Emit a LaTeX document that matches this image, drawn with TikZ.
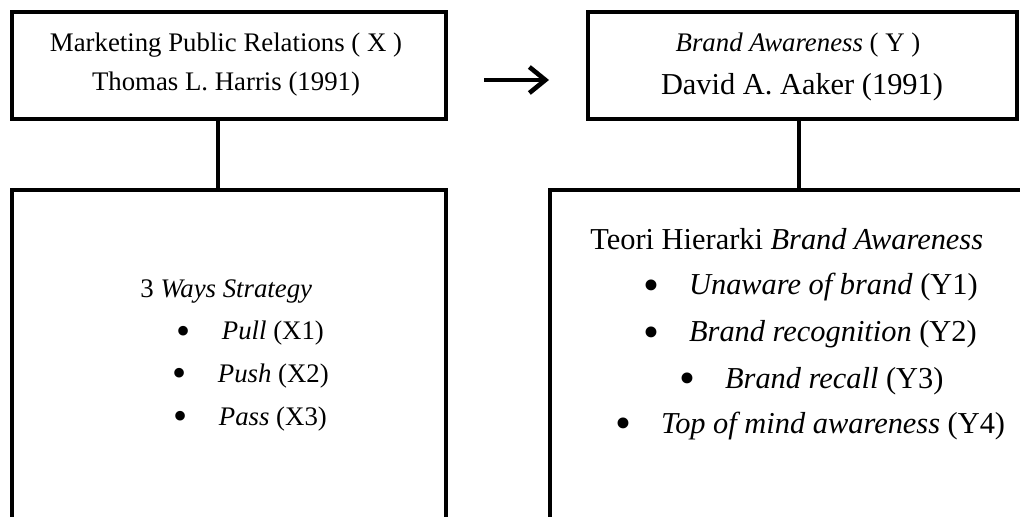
\documentclass[tikz,border=0pt]{standalone}
\usepackage{fontspec}
\setmainfont{Liberation Serif}
\usetikzlibrary{calc,positioning,arrows.meta}

\newcommand{\smallsize}{\fontsize{13.4}{16}\selectfont}
\newcommand{\bigsize}{\fontsize{15.2}{18}\selectfont}
\newcommand{\itembullet}{\makebox[21.5pt][l]{\hspace{-0.1em}\raisebox{-0.17em}{\scalebox{1.5}{\textbullet}}}}

\begin{document}
\begin{tikzpicture}[x=0.5pt,y=-0.5pt]

\useasboundingbox (0,0) rectangle (1020,517);
\clip (0,0) rectangle (1020,517);

\tikzstyle{mybox} = [draw, line width=2pt, rectangle, minimum width=217pt, minimum height=53.5pt, inner sep=0pt]
\tikzstyle{mylink} = [line width=2pt]
\tikzstyle{myarrow} = [line width=2.3pt, -{Straight Barb[length=8pt,width=13pt]}]
\tikzstyle{mytext} = [anchor=base west, inner sep=0pt]

% top boxes
\node (mpr) [mybox] at (229,65.5) {};
\node (mprtitle) [anchor=base, inner sep=0pt, font=\smallsize] at (226,52) {Marketing Public Relations ( X )};
\node (mprauthor) [anchor=base, inner sep=0pt, font=\smallsize] at (226,91) {Thomas L. Harris (1991)};

\node (awr) [mybox, minimum width=214.5pt] at (802.5,65.5) {};
\node (awrtitle) [anchor=base, inner sep=0pt, font=\smallsize] at (798,52) {\textit{Brand Awareness} ( Y )};
\node (awrauthor) [anchor=base, inner sep=0pt, font=\bigsize] at (802,95) {David A. Aaker (1991)};

\draw [myarrow] ($(mpr.east)+(36,14.5)$) -- ($(awr.west)+(-37,14.5)$);

% bottom boxes
\node (mps) [mybox, minimum height=200pt] at (229,390) {};
\node (hier) [mybox, minimum width=300pt, minimum height=200pt] at (850,390) {};

\draw [mylink] ($(mpr.south)+(-11,0)$) -- ($(mps.north)+(-11,0)$);
\coordinate (c2) at ($(awr.south)+(-3.5,0)$);
\draw [mylink] (c2) -- (c2 |- hier.north);

% left list
\node (ways) [mytext, font=\smallsize] at (140,298) {3 \textit{Ways Strategy}};
\node (x1) [mytext, font=\smallsize] at (178.5,340) {\itembullet\textit{Pull} (X1)};
\node (x2) [mytext, font=\smallsize] at (174.5,382) {\itembullet\textit{Push} (X2)};
\node (x3) [mytext, font=\smallsize] at (175.5,425) {\itembullet\textit{Pass} (X3)};

% right list
\node (teori) [mytext, font=\bigsize] at (590,250) {Teori Hierarki \textit{Brand Awareness}};
\node (y1) [mytext, font=\bigsize] at (645.7,295) {\itembullet\textit{Unaware of brand} (Y1)};
\node (y2) [mytext, font=\bigsize] at (645.7,342) {\itembullet\textit{Brand recognition} (Y2)};
\node (y3) [mytext, font=\bigsize] at (681.7,388) {\itembullet\textit{Brand recall} (Y3)};
\node (y4) [mytext, font=\bigsize] at (617.7,433) {\itembullet\textit{Top of mind awareness} (Y4)};

\end{tikzpicture}
\end{document}
